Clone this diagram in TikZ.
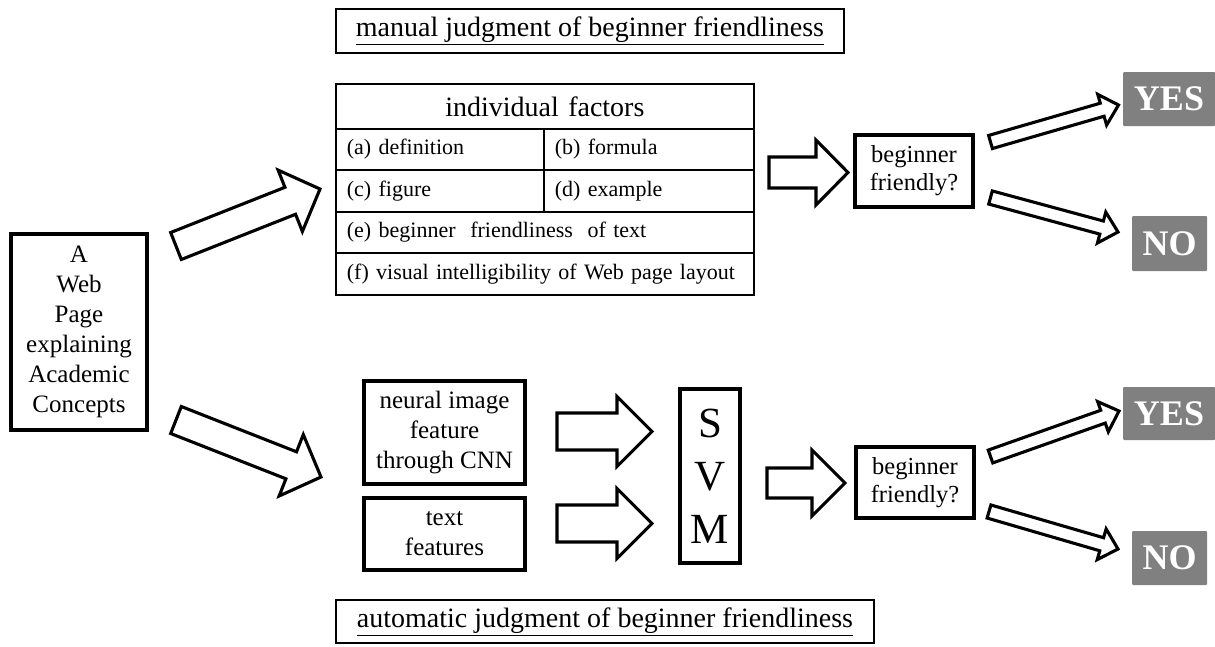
\documentclass[tikz,border=0pt]{standalone}
\usepackage{fontspec}
\setmainfont{Liberation Serif}
\usetikzlibrary{calc}
\newcommand\blockarr[5]{%
  \coordinate (hb) at ($(#2)!#5!(#1)$);
  \draw[barrow] ($(#1)!#3!90:(#2)$) -- ($(hb)!#3!90:(#2)$) -- ($(hb)!#4!90:(#2)$) -- (#2)
    -- ($(hb)!#4!-90:(#2)$) -- ($(hb)!#3!-90:(#2)$) -- ($(#1)!#3!-90:(#2)$) -- cycle;
}
\tikzset{
  thickbox/.style={draw, line width=3.1pt, inner sep=0pt, align=center},
  titlebox/.style={draw, line width=2pt, inner sep=0pt, font=\fontsize{28}{32}\selectfont},
  cell/.style={draw, line width=1.8pt, anchor=north west, inner xsep=11pt, inner ysep=0pt, align=left, font=\fontsize{22}{26}\selectfont},
  answer/.style={fill=black!50, text=white, inner sep=0pt, rounded corners=1pt, font=\fontsize{36}{40}\selectfont\bfseries},
  barrow/.style={draw, line width=3.1pt, fill=white, line join=miter},
}
\begin{document}
\begin{tikzpicture}[x=1pt,y=-1pt]
\useasboundingbox (0,0) rectangle (1215,646);
% source
\node[thickbox, minimum width=136pt, minimum height=196pt, font=\fontsize{25}{30}\selectfont] (src) at (79,332)
  {A\\Web\\Page\\explaining\\Academic\\Concepts};
% titles
\node[titlebox, minimum width=508pt, minimum height=44pt] (mtitle) at (590,30.5) {\underline{manual judgment of beginner friendliness}};
\node[titlebox, minimum width=538pt, minimum height=43pt] (atitle) at (605,621.5) {\underline{automatic judgment of beginner friendliness}};
% table
\node[cell, align=center, text width=396pt, minimum height=45pt, font=\fontsize{28}{32}\selectfont] (hdr) at (335,83) {individual factors};
\node[cell, text width=186pt, minimum height=41pt] (ca) at (335,128) {(a) definition};
\node[cell, text width=188pt, minimum height=41pt] (cb) at (543,128) {(b) formula};
\node[cell, text width=186pt, minimum height=42pt] (cc) at (335,169) {(c) figure};
\node[cell, text width=188pt, minimum height=42pt] (cd) at (543,169) {(d) example};
\node[cell, text width=396pt, minimum height=41pt] (ce) at (335,211) {(e) beginner\ \ friendliness\ \ of text};
\node[cell, text width=396pt, minimum height=42pt] (cf) at (335,252) {\mbox{(f) visual intelligibility of Web page layout}};
% decision boxes
\node[thickbox, minimum width=118pt, minimum height=72pt, font=\fontsize{24.5}{28}\selectfont] (bf1) at (914,171) {beginner\\friendly?};
\node[thickbox, minimum width=118pt, minimum height=71pt, font=\fontsize{24.5}{28}\selectfont] (bf2) at (915,482.5) {beginner\\friendly?};
% answers
\node[answer, minimum width=92pt, minimum height=54pt] (yes1) at (1169,99) {YES};
\node[answer, minimum width=75pt, minimum height=55pt] (no1) at (1169.5,243.5) {NO};
\node[answer, minimum width=92pt, minimum height=53pt] (yes2) at (1169,413.5) {YES};
\node[answer, minimum width=75pt, minimum height=54pt] (no2) at (1169.5,558) {NO};
% automatic part
\node[thickbox, minimum width=161pt, minimum height=103pt, font=\fontsize{25}{30}\selectfont] (neural) at (444.5,432.5) {neural image\\feature\\through CNN};
\node[thickbox, minimum width=161pt, minimum height=72pt, font=\fontsize{25}{30}\selectfont] (textf) at (444.5,534) {text\\features};
\node[thickbox, minimum width=60pt, minimum height=174pt, font=\fontsize{43}{53}\selectfont] (svm) at (710,476) {S\\V\\M};
% arrow end points
\coordinate (a1s) at (176,246);   \coordinate (a1e) at (320,189);
\coordinate (a2s) at (176,420);   \coordinate (a2e) at (321,477);
\coordinate (h1s) at (769,172.5); \coordinate (h1e) at (848,172.5);
\coordinate (h2s) at (767,483);   \coordinate (h2e) at (845,483);
\coordinate (s1s) at (557,431.5); \coordinate (s1e) at (652,431.5);
\coordinate (s2s) at (557,523.5); \coordinate (s2e) at (652,523.5);
\coordinate (t1s) at (990.5,142); \coordinate (t1e) at (1118.5,105);
\coordinate (t2s) at (990.5,197.5); \coordinate (t2e) at (1118,232);
\coordinate (t3s) at (990.5,456.5); \coordinate (t3e) at (1119,411);
\coordinate (t4s) at (989,511.5); \coordinate (t4e) at (1118,549);
% block arrows
\blockarr{a1s}{a1e}{14.5pt}{33pt}{32pt}
\blockarr{a2s}{a2e}{14.5pt}{33pt}{32pt}
\blockarr{h1s}{h1e}{15.5pt}{32.5pt}{32pt}
\blockarr{h2s}{h2e}{15pt}{33pt}{33pt}
\blockarr{s1s}{s1e}{18.5pt}{35pt}{35pt}
\blockarr{s2s}{s2e}{18.5pt}{35pt}{35pt}
\blockarr{t1s}{t1e}{6.8pt}{16pt}{17pt}
\blockarr{t2s}{t2e}{6.8pt}{16pt}{17pt}
\blockarr{t3s}{t3e}{6.8pt}{16pt}{17pt}
\blockarr{t4s}{t4e}{6.8pt}{16pt}{17pt}
\end{tikzpicture}
\end{document}
